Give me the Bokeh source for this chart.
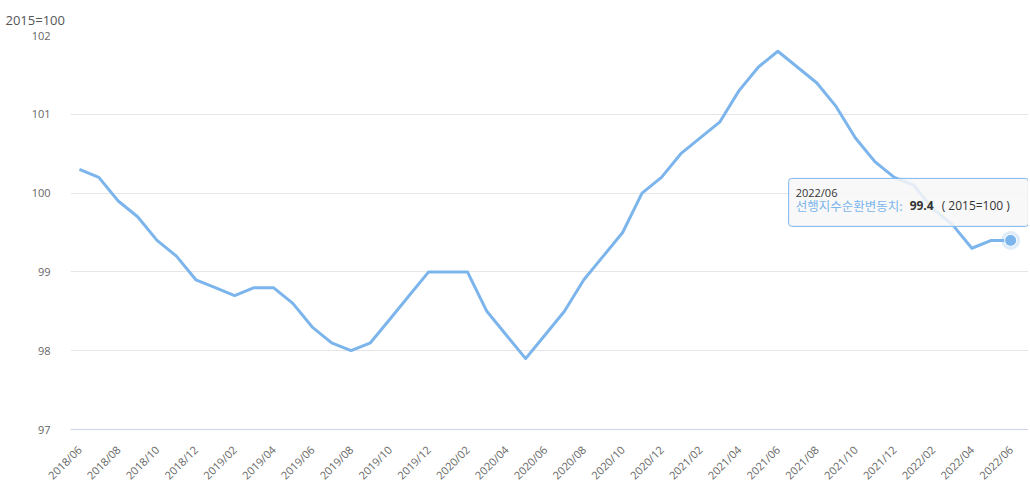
from bokeh.plotting import figure
from bokeh.models import FixedTicker, Range1d, Label
from bokeh.embed import file_html
from bokeh.resources import INLINE

months = ["2018/06", "2018/07", "2018/08", "2018/09", "2018/10", "2018/11", "2018/12",
          "2019/01", "2019/02", "2019/03", "2019/04", "2019/05", "2019/06", "2019/07",
          "2019/08", "2019/09", "2019/10", "2019/11", "2019/12", "2020/01", "2020/02",
          "2020/03", "2020/04", "2020/05", "2020/06", "2020/07", "2020/08", "2020/09",
          "2020/10", "2020/11", "2020/12", "2021/01", "2021/02", "2021/03", "2021/04",
          "2021/05", "2021/06", "2021/07", "2021/08", "2021/09", "2021/10", "2021/11",
          "2021/12", "2022/01", "2022/02", "2022/03", "2022/04", "2022/05", "2022/06"]
values = [100.3, 100.2, 99.9, 99.7, 99.4, 99.2, 98.9,
          98.8, 98.7, 98.8, 98.8, 98.6, 98.3, 98.1,
          98.0, 98.1, 98.4, 98.7, 99.0, 99.0, 99.0,
          98.5, 98.2, 97.9, 98.2, 98.5, 98.9, 99.2,
          99.5, 100.0, 100.2, 100.5, 100.7, 100.9, 101.3,
          101.6, 101.8, 101.6, 101.4, 101.1, 100.7, 100.4,
          100.2, 100.1, 99.8, 99.6, 99.3, 99.4, 99.4]
y_ticks = [97, 98, 99, 100, 101, 102]
series_name = "선행지수순환변동치"
unit_label = "2015=100"

idx = list(range(len(months)))
LINE = "#7cb5ec"

W, H = 1028, 496
ML, MR, MT, MB = 70, 0, 35, 67
x0, x1 = -0.46, len(months) - 1 + 0.92
y0, y1 = 97, 102

p = figure(width=W, height=H, output_backend="svg", toolbar_location=None,
           x_range=Range1d(x0, x1), y_range=Range1d(y0, y1),
           min_border_left=ML, min_border_right=MR, min_border_top=MT, min_border_bottom=MB)
p.outline_line_color = None
p.background_fill_color = "white"
p.border_fill_color = "white"

p.title.text = unit_label
p.title.align = "left"
p.title.offset = -(ML - 5)
p.title.text_font = "Open Sans"
p.title.text_font_size = "13px"
p.title.text_font_style = "normal"
p.title.text_color = "#555555"
p.title.standoff = 14

p.xgrid.grid_line_color = None
p.ygrid.grid_line_color = "#e6e6e6"
p.ygrid.ticker = FixedTicker(ticks=y_ticks)

p.yaxis.ticker = FixedTicker(ticks=y_ticks)
p.yaxis.axis_line_color = None
p.yaxis.major_tick_line_color = None
p.yaxis.minor_tick_line_color = None
p.yaxis.major_label_standoff = 14
p.yaxis.major_label_text_font = "Open Sans"
p.yaxis.major_label_text_font_size = "11px"
p.yaxis.major_label_text_color = "#666666"

p.xaxis.ticker = FixedTicker(ticks=idx[::2])
p.xaxis.major_label_overrides = {i: months[i] for i in idx[::2]}
p.xaxis.major_label_orientation = 0.785398
p.xaxis.axis_line_color = "#ccd6eb"
p.xaxis.major_tick_line_color = None
p.xaxis.minor_tick_line_color = None
p.xaxis.major_label_standoff = 12
p.xaxis.major_label_text_font = "Open Sans"
p.xaxis.major_label_text_font_size = "11px"
p.xaxis.major_label_text_color = "#666666"

p.line(idx, values, line_color=LINE, line_width=3, line_join="round")

# tooltip at last point
lx, ly = idx[-1], values[-1]

p.scatter([lx], [ly], size=19, fill_color=LINE, fill_alpha=0.25, line_color=None)
p.scatter([lx], [ly], size=12, fill_color=LINE, line_color="white", line_width=1)

# tooltip box built from a padded label around the date line
p.add_layout(Label(x=lx, y=ly, x_offset=-222, y_offset=62, text=months[-1],
                   text_font="Open Sans", text_font_size="11px",
                   text_color="#333333", text_baseline="top", text_align="left",
                   padding=dict(left=7, right=191, top=7, bottom=26),
                   background_fill_color="#f7f7f7", background_fill_alpha=0.85,
                   border_line_color=LINE, border_line_width=1, border_radius=3))
p.add_layout(Label(x=lx, y=ly, x_offset=-215, y_offset=35, text=series_name + ":",
                   text_font="Noto Sans CJK KR", text_font_size="12.5px",
                   text_color=LINE, text_baseline="middle"))
p.add_layout(Label(x=lx, y=ly, x_offset=-101, y_offset=35, text=f"{ly}",
                   text_font="Open Sans", text_font_size="12px", text_font_style="bold",
                   text_color="#333333", text_baseline="middle"))
p.add_layout(Label(x=lx, y=ly, x_offset=-69, y_offset=35, text=f"( {unit_label} )",
                   text_font="Open Sans", text_font_size="12px",
                   text_color="#333333", text_baseline="middle"))

open("out.html", "w").write(file_html(p, INLINE))
